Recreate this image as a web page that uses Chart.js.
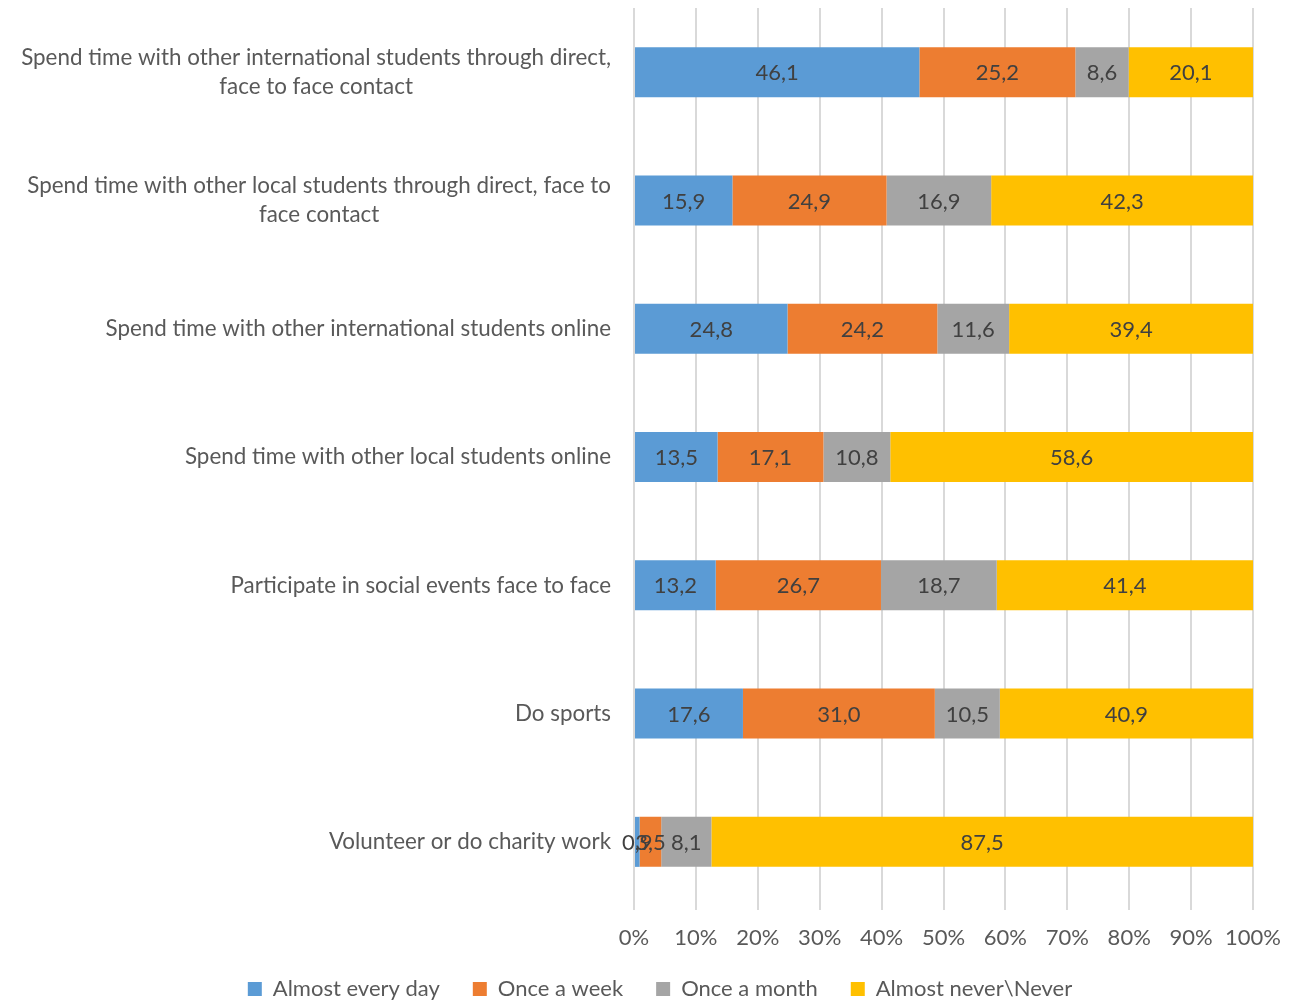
<!DOCTYPE html>
<html><head><meta charset="utf-8">
<script src="https://cdn.jsdelivr.net/npm/chart.js@4/dist/chart.umd.min.js"></script>
<style>html,body{margin:0;padding:0;background:#fff;}#wrap{width:1307px;height:1000px;}</style>
</head><body><div id="wrap"><canvas id="c" width="1307" height="1000"></canvas></div>
<script>
const categories = [
  ["Spend time with other international students through direct,", "face to face contact"],
  ["Spend time with other local students through direct, face to", "face contact"],
  ["Spend time with other international students online"],
  ["Spend time with other local students online"],
  ["Participate in social events face to face"],
  ["Do sports"],
  ["Volunteer or do charity work"]
];
const seriesNames = ["Almost every day", "Once a week", "Once a month", "Almost never\\Never"];
const almostEveryDay = [46.1, 15.9, 24.8, 13.5, 13.2, 17.6, 0.9];
const onceAWeek = [25.2, 24.9, 24.2, 17.1, 26.7, 31.0, 3.5];
const onceAMonth = [8.6, 16.9, 11.6, 10.8, 18.7, 10.5, 8.1];
const almostNever = [20.1, 42.3, 39.4, 58.6, 41.4, 40.9, 87.5];
const colors = ["#5B9BD5", "#ED7D31", "#A5A5A5", "#FFC000"];

const FONT = "Lato, 'Open Sans', sans-serif";
const TXT = "#595959";

const labelPlugin = {
  id: 'labels',
  afterDatasetsDraw(chart) {
    const ctx = chart.ctx;
    ctx.save();
    ctx.font = "22px " + FONT;
    ctx.fillStyle = "#404040";
    ctx.textAlign = "center";
    ctx.textBaseline = "middle";
    chart.data.datasets.forEach((ds, di) => {
      const meta = chart.getDatasetMeta(di);
      meta.data.forEach((el, i) => {
        const v = ds.data[i];
        const cx = (el.x + el.base) / 2;
        ctx.fillText(v.toFixed(1).replace('.', ','), cx, el.y + 1);
      });
    });
    const ys = chart.scales.y;
    const right = chart.chartArea.left - 23;
    ctx.fillStyle = TXT;
    ctx.font = "22.4px " + FONT;
    categories.forEach((lines, i) => {
      const cy = ys.getPixelForValue(i);
      const widths = lines.map(l => ctx.measureText(l).width);
      const bw = Math.max(...widths);
      const lh = 29;
      const startY = cy - (lines.length - 1) * lh / 2;
      lines.forEach((l, k) => {
        ctx.fillText(l, right - bw / 2, startY + k * lh);
      });
    });
    ctx.restore();
  }
};

new Chart(document.getElementById('c'), {
  type: 'bar',
  data: {
    labels: categories.map(c => c.join(' ')),
    datasets: [almostEveryDay, onceAWeek, onceAMonth, almostNever].map((d, i) => ({
      label: seriesNames[i],
      data: d,
      backgroundColor: colors[i],
      borderWidth: 0,
      barPercentage: 0.39,
      categoryPercentage: 1.0
    }))
  },
  options: {
    indexAxis: 'y',
    responsive: false,
    animation: false,
    layout: { padding: { top: 8, right: 54, left: 67, bottom: -10 } },
    scales: {
      x: {
        stacked: true, min: 0, max: 100,
        ticks: { stepSize: 10, callback: v => v + '%', color: TXT, font: { family: FONT, size: 22 }, padding: 15, maxRotation: 0 },
        grid: { color: '#D9D9D9', lineWidth: 2, tickLength: 4, drawTicks: true },
        border: { display: false },
        afterFit(s) { s.height = 39; }
      },
      y: {
        stacked: true,
        ticks: { display: false },
        grid: { display: false },
        border: { display: false },
        afterFit(s) { s.width = 567; }
      }
    },
    plugins: {
      legend: {
        position: 'bottom',
        labels: { color: TXT, font: { family: FONT, size: 22 }, boxWidth: 14, boxHeight: 14, padding: 33 }
      },
      tooltip: { enabled: false }
    }
  },
  plugins: [labelPlugin]
});
</script></body></html>
